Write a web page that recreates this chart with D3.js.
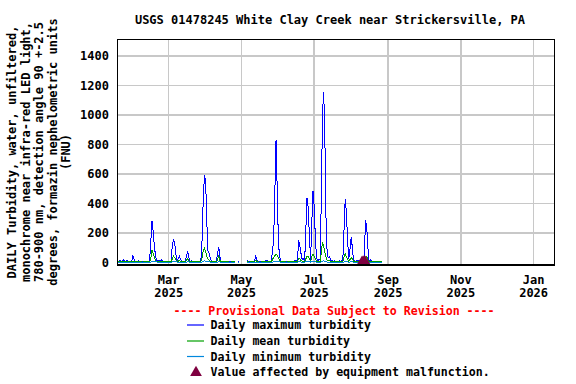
<!DOCTYPE html>
<html><head><meta charset="utf-8">
<script src="https://cdn.jsdelivr.net/npm/d3@7"></script>
<style>
body{margin:0;background:#fff}
svg{display:block}
text{font-family:"DejaVu Sans Mono",monospace;font-weight:bold}
</style>
</head><body><svg id="c" width="576" height="384"></svg>
<script>
const title = "USGS 01478245 White Clay Creek near Strickersville, PA";
const yLabelLines = [
  "DAILY Turbidity, water, unfiltered,",
  "monochrome near infra-red LED light,",
  "780-900 nm, detection angle 90 +-2.5",
  "degrees, formazin nephelometric units",
  "(FNU)"
];
const startDate = "2025-01-17";
const maxValues = [
  8,10,18,9,8,20,10,9,15,8,
  8,9,10,45,25,10,8,9,12,8,
  8,7,8,9,8,8,9,10,140,282,
  214,113,45,15,12,10,14,18,10,9,
  8,8,9,10,9,12,110,155,140,60,
  15,25,45,20,10,9,8,10,45,77,
  30,10,12,9,8,8,9,8,9,10,
  14,150,440,590,550,270,75,60,25,12,
  10,9,8,10,60,106,35,10,9,8,
  8,8,7,8,7,7,8,7,8,7,
  null,7,7,null,null,null,null,null,null,18,
  8,7,8,7,8,9,44,20,8,7,
  7,8,8,7,12,12,12,8,8,9,
  76,150,470,830,500,140,40,12,9,8,
  8,8,7,8,8,9,8,8,10,12,
  10,20,150,110,60,20,25,12,220,440,
  370,180,20,270,485,380,165,30,15,20,
  20,445,1020,1155,825,255,40,35,40,15,
  12,10,12,10,9,10,12,10,12,18,
  215,430,340,150,25,90,172,104,15,12,
  10,12,10,14,12,10,15,30,287,248,
  104,15,20,12,10,9,10,9,10,9,
  10,9,9
];
const meanValues = [
  5,5,6,5,5,6,5,5,6,5,
  5,5,5,12,8,5,5,5,5,5,
  5,4,5,5,5,5,5,5,30,85,
  60,35,15,8,6,6,6,7,6,5,
  5,5,5,5,5,6,25,45,35,18,
  8,10,15,8,6,5,5,6,15,30,
  12,6,6,5,5,5,5,5,5,5,
  6,35,80,95,75,40,25,18,10,6,
  6,5,5,6,20,45,15,6,5,5,
  5,5,4,5,4,4,5,4,5,4,
  null,4,4,null,null,null,null,null,null,8,
  5,4,5,4,5,5,15,8,5,4,
  4,5,5,4,6,6,6,5,5,5,
  20,35,45,60,50,35,15,6,5,5,
  5,5,4,5,5,5,5,5,5,6,
  5,8,30,25,15,8,8,6,25,45,
  40,30,10,40,60,45,25,10,8,8,
  10,70,140,110,65,35,15,12,12,8,
  6,5,6,5,5,5,6,5,6,8,
  35,60,40,25,10,20,35,25,8,6,
  5,6,5,6,6,5,6,10,35,40,
  20,8,8,6,5,5,5,5,5,5,
  5,5,5
];
const minValues = [
  3,3,3,3,3,3,3,3,3,3,
  3,3,3,4,4,3,3,3,3,3,
  3,3,3,3,3,3,3,3,4,8,
  10,8,6,4,4,3,3,3,3,3,
  3,3,3,3,3,3,5,8,8,6,
  4,4,4,4,3,3,3,3,4,5,
  4,3,3,3,3,3,3,3,3,3,
  3,5,8,12,10,8,6,5,4,3,
  3,3,3,3,4,6,4,3,3,3,
  3,3,3,3,3,3,3,3,3,3,
  null,3,3,null,null,null,null,null,null,3,
  3,3,3,3,3,3,4,4,3,3,
  3,3,3,3,3,3,3,3,3,3,
  4,6,8,10,8,6,5,4,3,3,
  3,3,3,3,3,3,3,3,3,3,
  3,3,5,5,4,3,3,3,5,8,
  8,6,4,6,8,8,6,4,3,3,
  3,6,10,12,8,6,4,4,4,3,
  3,3,3,3,3,3,3,3,3,3,
  5,8,6,5,4,4,6,5,3,3,
  3,3,3,3,3,3,3,3,6,6,
  5,3,3,3,3,3,3,3,3,3,
  3,3,3
];
const malfunctionDates = ["2025-08-10","2025-08-11","2025-08-12","2025-08-13"];
const malfunctionValues = [5,9,9,5];
const yTicks = [0,200,400,600,800,1000,1200,1400];
const xTickDates = ["2025-03-01","2025-05-01","2025-07-01","2025-09-01","2025-11-01","2026-01-01"];
const xTickMonths = ["Mar","May","Jul","Sep","Nov","Jan"];
const xTickYears = ["2025","2025","2025","2025","2025","2026"];
const legendNote = "---- Provisional Data Subject to Revision ----";
const seriesNames = ["Daily maximum turbidity","Daily mean turbidity","Daily minimum turbidity"];
const malfunctionLabel = "Value affected by equipment malfunction.";

const colors = {max:"#0000ff", mean:"#00a000", min:"#0088dd", tri:"#7f0040"};
const parse = d3.utcParse("%Y-%m-%d");
const t0 = parse(startDate);
const dayDate = i => d3.utcDay.offset(t0, i);

const L = 117.4, R = 554.5, T = 39.5, B = 265;
const svg = d3.select("#c");
const x = d3.scaleUtc().domain([parse("2025-01-17"), new Date(Date.UTC(2026,0,18,12))]).range([L, R]);
const y = d3.scaleLinear().domain([-16, 1510]).range([B, T]);

svg.append("defs").append("clipPath").attr("id","pc")
  .append("rect").attr("x",L).attr("y",T).attr("width",R-L).attr("height",B-T);

// grid
const g = svg.append("g").attr("shape-rendering","crispEdges");
g.selectAll("line.h").data(yTicks.filter(v=>v>0)).join("line")
  .attr("x1",L).attr("x2",R).attr("y1",d=>y(d)).attr("y2",d=>y(d))
  .attr("stroke","#c8c8c8").attr("stroke-width",1.5);
g.selectAll("line.v").data(xTickDates).join("line")
  .attr("x1",d=>x(parse(d))).attr("x2",d=>x(parse(d))).attr("y1",T).attr("y2",B)
  .attr("stroke","#c8c8c8").attr("stroke-width",1.5);

// series
const mk = arr => arr.map((v,i)=>({t:dayDate(i), v}));
const line = d3.line().defined(d=>d.v!=null).x(d=>x(d.t)).y(d=>y(d.v));
const dg = svg.append("g").attr("clip-path","url(#pc)");
[[maxValues,colors.max],[meanValues,colors.mean],[minValues,colors.min]].forEach(([arr,c])=>{
  dg.append("path").attr("d",line(mk(arr))).attr("fill","none").attr("stroke",c)
    .attr("stroke-width",1).attr("shape-rendering","crispEdges");
});
// malfunction triangles
const tri = d3.symbol().type(d3.symbolTriangle).size(48);
dg.selectAll("path.tri").data(malfunctionDates.map((d,i)=>({t:parse(d),v:malfunctionValues[i]})))
  .join("path").attr("transform",d=>`translate(${x(d.t)},${y(d.v)})`).attr("d",tri).attr("fill",colors.tri);

// frame
svg.append("rect").attr("x",L).attr("y",T).attr("width",R-L).attr("height",B-T)
  .attr("fill","none").attr("stroke","#000").attr("stroke-width",1.5).attr("shape-rendering","crispEdges");

// y ticks
svg.selectAll("text.yt").data(yTicks).join("text")
  .attr("x",109).attr("y",d=>y(d)).attr("dy","0.36em").attr("text-anchor","end")
  .attr("font-size",12).text(d=>d);
// x ticks
svg.selectAll("text.xm").data(xTickDates).join("text")
  .attr("x",d=>x(parse(d))).attr("y",284).attr("text-anchor","middle").attr("font-size",12)
  .text((d,i)=>xTickMonths[i]);
svg.selectAll("text.xy").data(xTickDates).join("text")
  .attr("x",d=>x(parse(d))).attr("y",297).attr("text-anchor","middle").attr("font-size",12)
  .text((d,i)=>xTickYears[i]);

// title
svg.append("text").attr("x",330).attr("y",24).attr("text-anchor","middle").attr("font-size",12).text(title);

// y label
const yl = [12,25.5,39,52.5,66];
yLabelLines.forEach((s,i)=>{
  svg.append("text").attr("transform",`translate(${yl[i]},152) rotate(-90)`)
    .attr("text-anchor","middle").attr("dy","0.36em").attr("font-size",12).text(s);
});

// legend
svg.append("text").attr("x",334).attr("y",315).attr("text-anchor","middle").attr("font-size",11.6)
  .attr("fill","#ff0000").text(legendNote);
const ly = [325,341,356.5];
[colors.max,colors.mean,colors.min].forEach((c,i)=>{
  svg.append("line").attr("x1",187).attr("x2",204).attr("y1",ly[i]).attr("y2",ly[i]).attr("stroke",c).attr("stroke-width",1.2);
  svg.append("text").attr("x",210.5).attr("y",ly[i]).attr("dy","0.36em").attr("font-size",11.6).text(seriesNames[i]);
});
svg.append("path").attr("transform","translate(196,372.5)").attr("d",d3.symbol().type(d3.symbolTriangle).size(60)).attr("fill",colors.tri);
svg.append("text").attr("x",210.5).attr("y",372).attr("dy","0.36em").attr("font-size",11.6).text(malfunctionLabel);
</script>
</body></html>
